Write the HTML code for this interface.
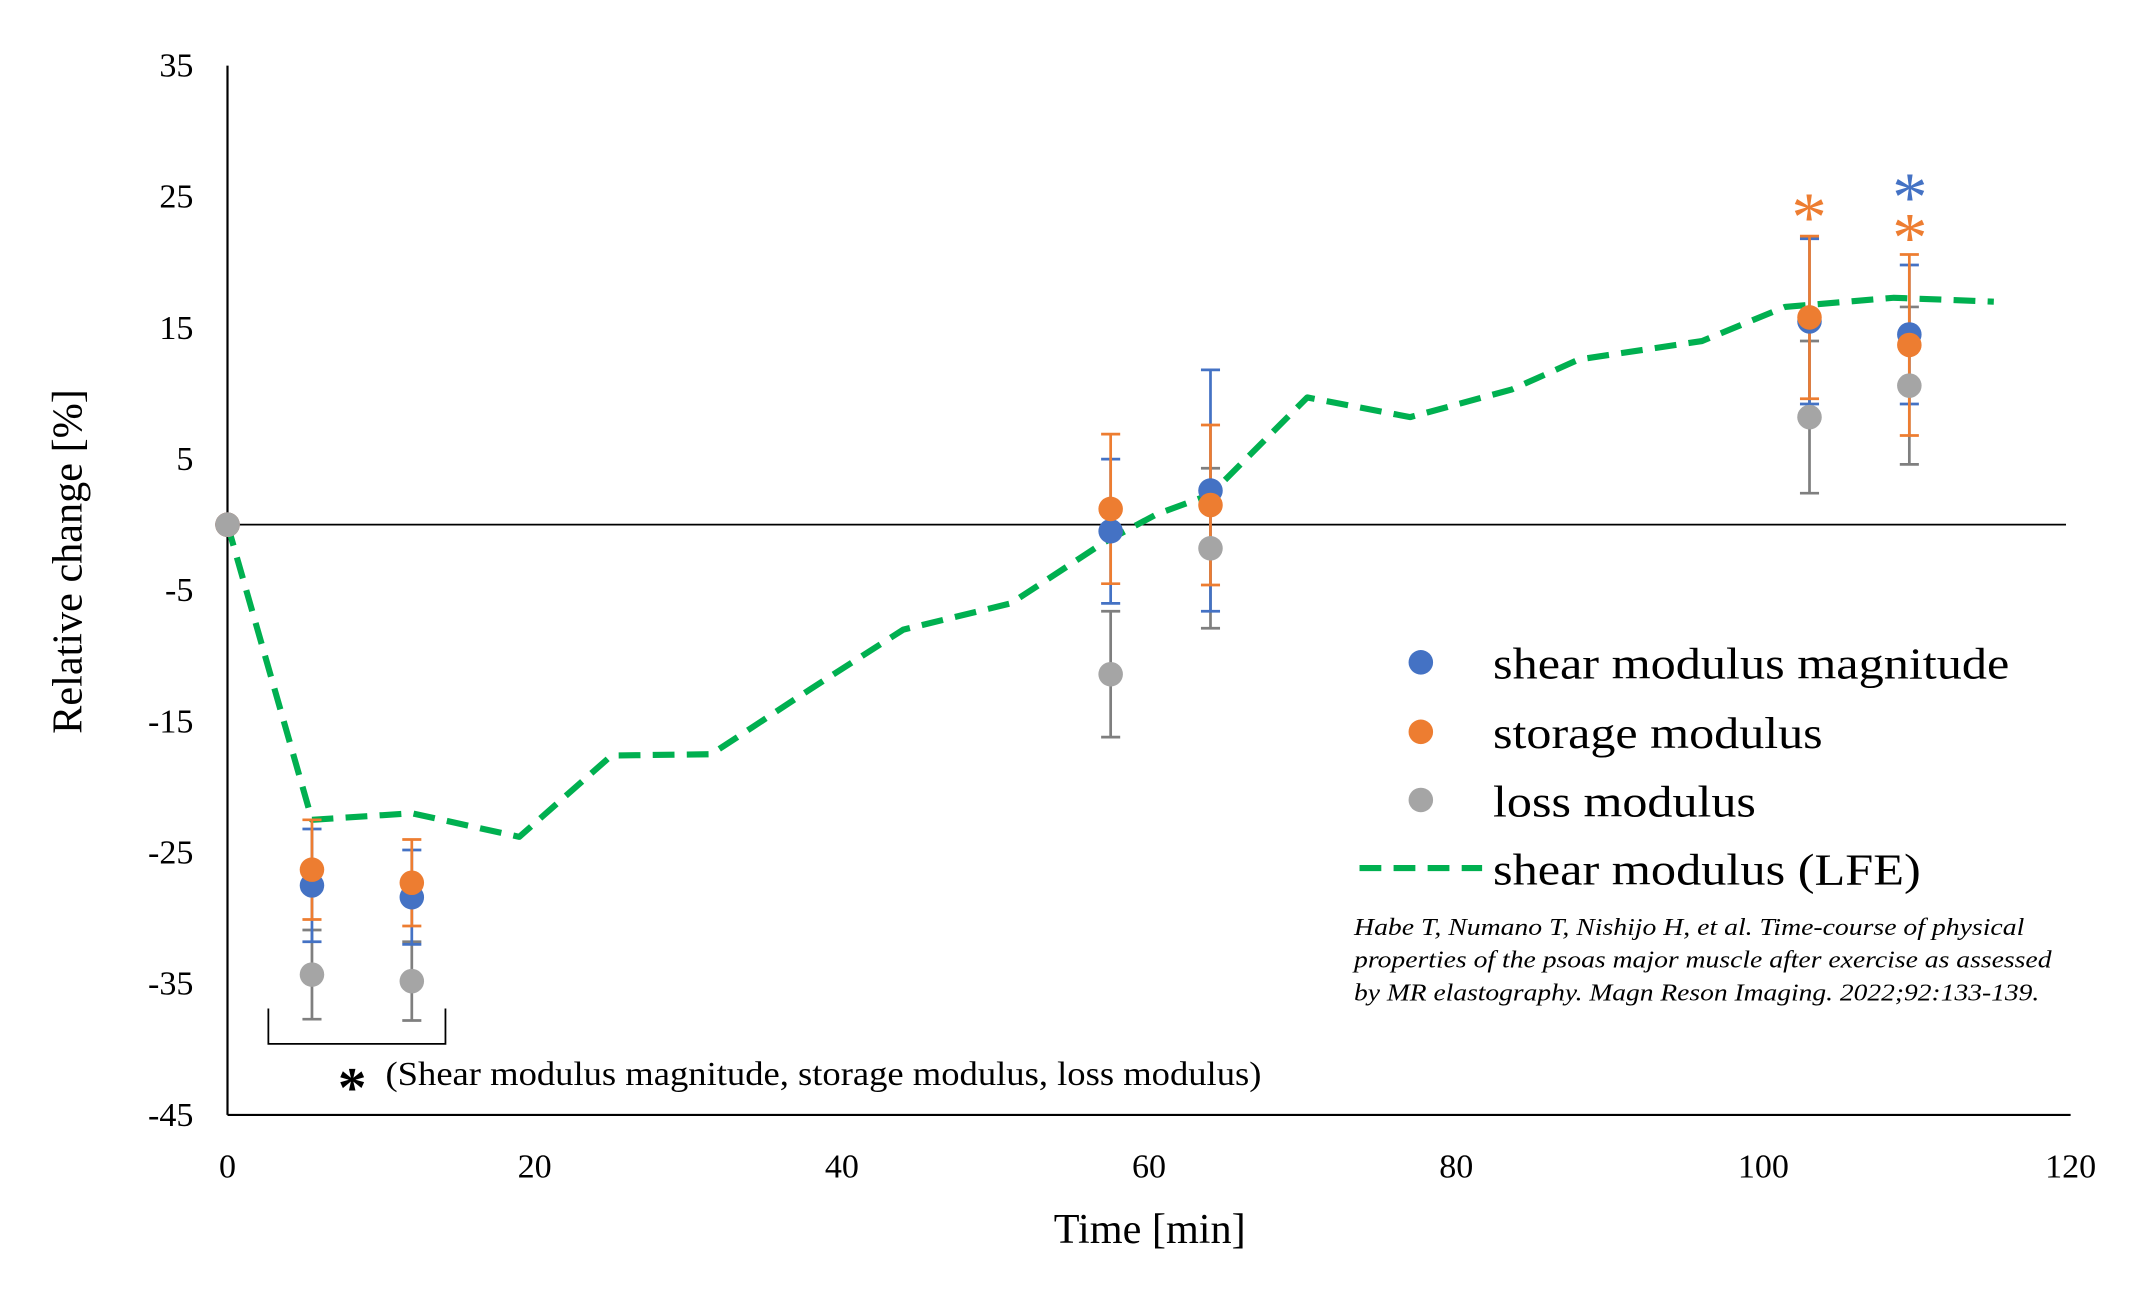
<!DOCTYPE html>
<html><head><meta charset="utf-8"><style>
html,body{margin:0;padding:0;background:#fff;}
svg{display:block;font-family:"Liberation Serif",serif;}
</style></head><body>
<svg id="chart" width="2136" height="1311" viewBox="0 0 1568 962" preserveAspectRatio="none">
<g id="axes"></g>
<g id="marks"></g>
<g>
 <circle cx="1043" cy="486" r="9" fill="#4472C4"/>
 <text x="1096" y="498" font-size="33" textLength="379" lengthAdjust="spacingAndGlyphs">shear modulus magnitude</text>
 <circle cx="1043" cy="537" r="9" fill="#ED7D31"/>
 <text x="1096" y="549" font-size="33" textLength="242" lengthAdjust="spacingAndGlyphs">storage modulus</text>
 <circle cx="1043" cy="587" r="9" fill="#A5A5A5"/>
 <text x="1096" y="599" font-size="33" textLength="193" lengthAdjust="spacingAndGlyphs">loss modulus</text>
 <line x1="998" y1="637" x2="1088" y2="637" stroke="#00B050" stroke-width="4.5" stroke-dasharray="16,9"/>
 <text x="1096" y="649" font-size="33" textLength="314" lengthAdjust="spacingAndGlyphs">shear modulus (LFE)</text>
</g>
<g font-style="italic" font-size="18">
 <text x="994" y="686" textLength="492" lengthAdjust="spacingAndGlyphs">Habe T, Numano T, Nishijo H, et al. Time-course of physical</text>
 <text x="994" y="710" textLength="512" lengthAdjust="spacingAndGlyphs">properties of the psoas major muscle after exercise as assessed</text>
 <text x="994" y="734" textLength="503" lengthAdjust="spacingAndGlyphs">by MR elastography. Magn Reson Imaging. 2022;92:133-139.</text>
</g>
<g>
 <polyline points="197,740 197,766 327,766 327,740" fill="none" stroke="#000" stroke-width="1.3"/>
 <text x="248" y="812" font-size="42" font-weight="bold">*</text>
 <text x="283" y="796" font-size="25" textLength="643" lengthAdjust="spacingAndGlyphs">(Shear modulus magnitude, storage modulus, loss modulus)</text>
</g>
<g font-size="52">
 <text x="1328" y="177" fill="#ED7D31" text-anchor="middle">*</text>
 <text x="1402" y="162" fill="#4472C4" text-anchor="middle">*</text>
 <text x="1402" y="192" fill="#ED7D31" text-anchor="middle">*</text>
</g>
<text x="844" y="912" font-size="31" text-anchor="middle">Time [min]</text>
<text transform="translate(60,412) rotate(-90)" font-size="31" text-anchor="middle">Relative change [%]</text>
</svg>
<script>
const times = [0, 5.5, 12, 57.5, 64, 103, 109.5];
const shearVals = [0, -27.5, -28.4, -0.5, 2.6, 15.5, 14.5];
const shearErr = [0, 4.3, 3.6, 5.5, 9.2, 6.3, 5.3];
const storageVals = [0, -26.3, -27.3, 1.2, 1.5, 15.8, 13.7];
const storageErr = [0, 3.8, 3.3, 5.7, 6.1, 6.2, 6.9];
const lossVals = [0, -34.3, -34.8, -11.4, -1.8, 8.2, 10.6];
const lossErr = [0, 3.4, 3.0, 4.8, 6.1, 5.8, 6.0];
const lfeTimes = [0, 5.5, 12, 19, 25, 31.5, 38, 44, 51, 57, 60.5, 64, 70.3, 77, 83.6, 88, 96, 101.4, 108.5, 115];
const lfeVals = [0, -22.5, -22, -23.8, -17.6, -17.5, -12.5, -8, -6, -1.4, 0.8, 2.3, 9.7, 8.2, 10.3, 12.6, 14, 16.6, 17.3, 17];
const xTicks = [0, 20, 40, 60, 80, 100, 120];
const yTicks = [35, 25, 15, 5, -5, -15, -25, -35, -45];

const NS = "http://www.w3.org/2000/svg";
const X = t => 167 + t * (1520 - 167) / 120;
const Y = v => 385 - v * 9.625;
function mk(parent, tag, attrs) {
  const e = document.createElementNS(NS, tag);
  for (const k in attrs) e.setAttribute(k, attrs[k]);
  parent.appendChild(e);
  return e;
}
const axes = document.getElementById('axes');
const marks = document.getElementById('marks');

let l = mk(axes, 'line', {x1: X(0), y1: Y(35), x2: X(0), y2: Y(-45), stroke: '#000', 'stroke-width': 1.6});


l = mk(axes, 'line', {x1: X(0), y1: Y(-45), x2: X(120), y2: Y(-45), stroke: '#000', 'stroke-width': 1.6});


l = mk(axes, 'line', {x1: X(0), y1: Y(0), x2: X(119.7), y2: Y(0), stroke: '#000', 'stroke-width': 1.3});



yTicks.forEach(v => {
  const t = mk(axes, 'text', {x: 142, y: Y(v) + 8, 'font-size': 25, 'text-anchor': 'end'});
  t.textContent = v;
  
  
});
xTicks.forEach(v => {
  const t = mk(axes, 'text', {x: X(v), y: 864, 'font-size': 25, 'text-anchor': 'middle'});
  t.textContent = v;
  
  
});

const lfe = mk(marks, 'polyline', {points: lfeTimes.map((t, i) => X(t) + ',' + Y(lfeVals[i])).join(' '), fill: 'none', stroke: '#00B050', 'stroke-width': 4.5, 'stroke-dasharray': '16,9', 'stroke-linejoin': 'round'});



function errBars(vals, errs, color, name) {
  times.forEach((t, i) => {
    if (!errs[i]) return;
    const g = mk(marks, 'g', {stroke: color, 'stroke-width': 2});
    
    
    const x = X(t), y1 = Y(vals[i] + errs[i]), y2 = Y(vals[i] - errs[i]);
    mk(g, 'line', {x1: x, y1: y1, x2: x, y2: y2});
    mk(g, 'line', {x1: x - 7, y1: y1, x2: x + 7, y2: y1});
    mk(g, 'line', {x1: x - 7, y1: y2, x2: x + 7, y2: y2});
  });
}
function points(vals, color, name) {
  times.forEach((t, i) => {
    const c = mk(marks, 'ellipse', {cx: X(t), cy: Y(vals[i]), rx: 9, ry: 9, fill: color});
    
    
  });
}
errBars(lossVals, lossErr, '#7F7F7F', 'loss');
errBars(shearVals, shearErr, '#4472C4', 'shear');
errBars(storageVals, storageErr, '#ED7D31', 'storage');
points(lossVals, '#A5A5A5', 'loss');
points(shearVals, '#4472C4', 'shear');
points(storageVals, '#ED7D31', 'storage');
const o = mk(marks, 'circle', {cx: X(0), cy: Y(0), r: 9, fill: '#A5A5A5'});


</script>
</body></html>
